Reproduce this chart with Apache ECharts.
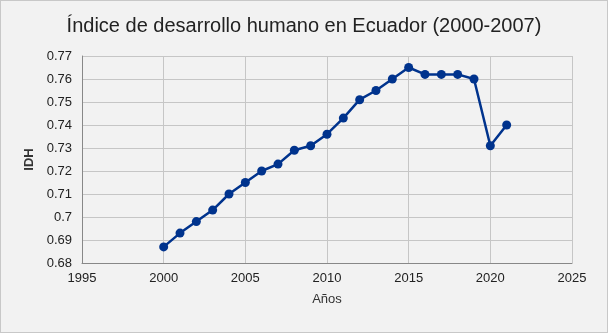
<!DOCTYPE html>
<html>
<head>
<meta charset="utf-8">
<script src="https://cdn.jsdelivr.net/npm/echarts@6/dist/echarts.min.js"></script>
<style>
  html, body { margin: 0; padding: 0; background: #ffffff; }
  #chart { width: 606px; height: 331px; border: 1px solid #c8c8c8; background: #f2f2f2; }
</style>
</head>
<body>
<div id="chart"></div>
<script>
// IDH de Ecuador por año
var years = [2000, 2001, 2002, 2003, 2004, 2005, 2006, 2007, 2008, 2009, 2010,
             2011, 2012, 2013, 2014, 2015, 2016, 2017, 2018, 2019, 2020, 2021];
var idh = [0.687, 0.693, 0.698, 0.703, 0.710, 0.715, 0.720, 0.723, 0.729, 0.731, 0.736,
           0.743, 0.751, 0.755, 0.760, 0.765, 0.762, 0.762, 0.762, 0.760, 0.731, 0.740];

var chart = echarts.init(document.getElementById('chart'));
var font = 'Liberation Sans, Arial, sans-serif';

chart.setOption({
  backgroundColor: '#f2f2f2',
  animation: false,
  title: {
    text: 'Índice de desarrollo humano en Ecuador (2000-2007)',
    left: 'center',
    top: 10,
    textStyle: { fontFamily: font, fontSize: 20, fontWeight: 'normal', color: '#222' }
  },
  grid: { left: 81, right: 35, top: 55, bottom: 69 },
  xAxis: {
    type: 'value',
    min: 1995, max: 2025, interval: 5,
    name: 'Años',
    nameLocation: 'middle',
    nameGap: 30,
    nameTextStyle: { fontFamily: font, fontSize: 13, color: '#333' },
    axisLine: { lineStyle: { color: '#888' } },
    axisTick: { show: false },
    axisLabel: {
      fontFamily: font, fontSize: 13, color: '#222', margin: 9,
      formatter: function (v) { return String(v); }
    },
    splitLine: { show: true, lineStyle: { color: '#c6c6c6' } }
  },
  yAxis: {
    type: 'value',
    min: 0.68, max: 0.77, interval: 0.01,
    name: 'IDH',
    nameLocation: 'middle',
    nameGap: 46,
    nameTextStyle: { fontFamily: font, fontSize: 13, fontWeight: 'bold', color: '#333' },
    axisLine: { show: true, lineStyle: { color: '#888' } },
    axisTick: { show: false },
    axisLabel: {
      fontFamily: font, fontSize: 13, color: '#222', margin: 10,
      formatter: function (v) { return String(+v.toFixed(2)); }
    },
    splitLine: { show: true, lineStyle: { color: '#c6c6c6' } }
  },
  series: [{
    type: 'line',
    data: years.map(function (y, i) { return [y, idh[i]]; }),
    symbol: 'circle',
    symbolSize: 9,
    lineStyle: { color: '#00338d', width: 2.5 },
    itemStyle: { color: '#00338d' }
  }]
});
</script>
</body>
</html>
